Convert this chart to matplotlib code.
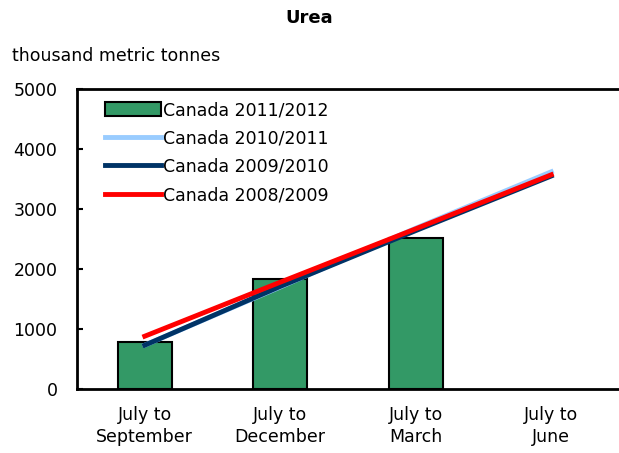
import matplotlib.pyplot as plt
import numpy as np

# data
categories = ['July to\nSeptember', 'July to\nDecember', 'July to\nMarch', 'July to\nJune']
canada_2011_2012 = [790, 1840, 2520, np.nan]
canada_2010_2011 = [730, 1700, 2680, 3620]
canada_2009_2010 = [730, 1710, 2640, 3550]
canada_2008_2009 = [880, 1780, 2670, 3570]

plt.rcParams['font.family'] = ['DejaVu Sans']

fig = plt.figure(figsize=(6.19, 4.53), dpi=100)
ax = fig.add_axes([77 / 619, 64 / 453, 542 / 619, 300 / 453])

x = np.arange(len(categories))
b = ax.bar(x, canada_2011_2012, width=0.4, color='#339966', edgecolor='black',
           linewidth=1.5, label='Canada 2011/2012', zorder=2)
l1, = ax.plot(x, canada_2010_2011, color='#99CCFF', lw=3.5, label='Canada 2010/2011', zorder=3)
l2, = ax.plot(x, canada_2009_2010, color='#003366', lw=3.5, label='Canada 2009/2010', zorder=4)
l3, = ax.plot(x, canada_2008_2009, color='#FF0000', lw=3.5, label='Canada 2008/2009', zorder=5)

ax.set_xlim(-0.5, 3.5)
ax.set_ylim(0, 5000)
ax.set_yticks(range(0, 5001, 1000))
ax.set_xticks(x)
ax.set_xticklabels(categories, fontsize=12.5, linespacing=1.3)
ax.tick_params(axis='y', direction='in', length=4, width=1.5, labelsize=12.5, pad=14)
ax.tick_params(axis='x', length=0, pad=12)
for side in ['left', 'bottom', 'top']:
    ax.spines[side].set_linewidth(2)
ax.spines['right'].set_visible(False)

ax.legend(handles=[b, l1, l2, l3], loc='upper left', frameon=False, fontsize=12.5,
          handlelength=3.2, handleheight=0.9, handletextpad=0.1, labelspacing=0.6,
          borderaxespad=0.3, bbox_to_anchor=(0.03, 1.0))

fig.text(0.5, 1 - 18 / 453, 'Urea', ha='center', va='center', fontsize=13, fontweight='bold')
fig.text(12 / 619, 1 - 56 / 453, 'thousand metric tonnes', ha='left', va='center', fontsize=12.5)

fig.savefig('out.png', dpi=100)
